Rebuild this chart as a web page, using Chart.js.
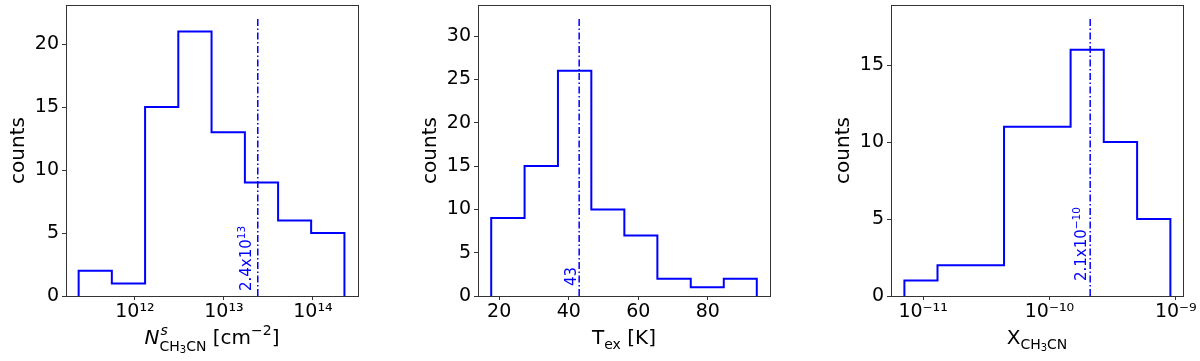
<!DOCTYPE html>
<html>
<head>
<meta charset="utf-8">
<script src="https://cdn.jsdelivr.net/npm/chart.js@4.4.0/dist/chart.umd.min.js"></script>
<style>
  html, body { margin: 0; padding: 0; background: #fff; overflow: hidden; }
  body { width: 1200px; height: 361px; position: relative; }
  canvas { position: absolute; top: 0; }
</style>
</head>
<body>
<canvas id="c1" width="412" height="361" style="left:0px"></canvas>
<canvas id="c2" width="412" height="361" style="left:412px"></canvas>
<canvas id="c3" width="412" height="361" style="left:825px"></canvas>
<script>
// panel 1: column density (log bins)
const nEdges = [2.33e11, 5.50e11, 1.30e12, 3.07e12, 7.26e12, 1.72e13, 4.06e13, 9.55e13, 2.26e14];
const nCounts = [2, 1, 15, 21, 13, 9, 6, 5];
const nMedian = 2.4e13;
const nXTicks = [1e12, 1e13, 1e14];
const nXLabels = ['10¹²', '10¹³', '10¹⁴'];
const nYTicks = [0, 5, 10, 15, 20];

// panel 2: excitation temperature
const tEdges = [17.7, 27.3, 36.9, 46.5, 56.0, 65.5, 75.1, 84.6, 94.1];
const tCounts = [9, 15, 26, 10, 7, 2, 1, 2];
const tMedian = 43;
const tXTicks = [20, 40, 60, 80];
const tXLabels = ['20', '40', '60', '80'];
const tYTicks = [0, 5, 10, 15, 20, 25, 30];

// panel 3: abundance (log bins)
const xEdges = [7.11e-12, 1.30e-11, 2.40e-11, 4.37e-11, 8.04e-11, 1.47e-10, 2.69e-10, 4.94e-10, 9.06e-10];
const xCounts = [1, 2, 2, 11, 11, 16, 10, 5];
const xMedian = 2.1e-10;
const xXTicks = [1e-11, 1e-10, 1e-9];
const xXLabels = ['10⁻¹¹', '10⁻¹⁰', '10⁻⁹'];
const xYTicks = [0, 5, 10, 15];

const BLUE = '#0000ff';
const FONT = '"DejaVu Sans", sans-serif';

function stepPoints(edges, counts) {
  const pts = [{ x: edges[0], y: 0 }];
  counts.forEach((c, i) => pts.push({ x: edges[i], y: c }));
  pts.push({ x: edges[edges.length - 1], y: counts[counts.length - 1] });
  pts.push({ x: edges[edges.length - 1], y: 0 });
  return pts;
}

// draw a row of text pieces (for sub/superscripts)
function drawRuns(ctx, runs, x, y, center) {
  let w = 0;
  runs.forEach(r => {
    ctx.font = (r.italic ? 'italic ' : '') + r.size + 'px ' + FONT;
    r.w = ctx.measureText(r.t).width;
    if (!r.stack) w += r.w;
  });
  let cx = center ? x - w / 2 : x;
  ctx.textBaseline = 'alphabetic';
  ctx.textAlign = 'left';
  runs.forEach(r => {
    ctx.font = (r.italic ? 'italic ' : '') + r.size + 'px ' + FONT;
    ctx.fillText(r.t, cx + (r.dx || 0), y + (r.dy || 0));
    if (!r.stack) cx += r.w;
  });
}

const textPlugin = {
  id: 'texts',
  afterDraw(chart, args, opts) {
    const ctx = chart.ctx;
    const a = chart.chartArea;
    ctx.save();
    // frame
    ctx.strokeStyle = '#333';
    ctx.lineWidth = 1;
    ctx.strokeRect(Math.round(a.left) + 0.5, Math.round(a.top) + 0.5,
      Math.round(a.right - a.left), Math.round(a.bottom - a.top));
    // y label
    ctx.fillStyle = '#000';
    ctx.save();
    ctx.translate(a.left - 47.5, (a.top + a.bottom) / 2);
    ctx.rotate(-Math.PI / 2);
    ctx.font = '20px ' + FONT;
    ctx.textAlign = 'center';
    ctx.textBaseline = 'middle';
    ctx.fillText('counts', 0, 0);
    ctx.restore();
    // x label
    drawRuns(ctx, opts.xTitle, (a.left + a.right) / 2, 344, true);
    // median annotation
    const px = chart.scales.x.getPixelForValue(opts.median) - opts.offset;
    ctx.save();
    ctx.fillStyle = BLUE;
    ctx.translate(px, a.bottom - opts.gap);
    ctx.rotate(-Math.PI / 2);
    drawRuns(ctx, opts.note, 0, 0, false);
    ctx.restore();
    ctx.restore();
  }
};

function makeChart(id, cfg) {
  new Chart(document.getElementById(id), {
    type: 'line',
    data: {
      datasets: [
        { data: stepPoints(cfg.edges, cfg.counts), stepped: true, borderColor: BLUE,
          borderWidth: 2, pointRadius: 0, fill: false },
        { data: [{ x: cfg.median, y: 0 }, { x: cfg.median, y: cfg.lineTop }], borderColor: BLUE,
          borderWidth: 1.5, borderDash: [7, 2.5, 1.5, 2.5], pointRadius: 0, fill: false }
      ]
    },
    options: {
      responsive: false,
      animation: false,
      events: [],
      layout: { padding: { left: 0, top: 5, right: 54, bottom: 0 } },
      plugins: {
        legend: { display: false },
        tooltip: { enabled: false },
        texts: { xTitle: cfg.xTitle, note: cfg.note, median: cfg.median, offset: cfg.offset, gap: cfg.gap }
      },
      scales: {
        x: {
          type: cfg.xType, min: cfg.xMin, max: cfg.xMax,
          border: { display: false },
          grid: { drawOnChartArea: false, drawTicks: true, tickLength: 4, color: '#333' },
          ticks: { color: '#000', font: { family: FONT, size: 19 }, padding: 1, autoSkip: false,
            maxRotation: 0, callback: (v, i) => cfg.xLabels[i] },
          afterBuildTicks: s => { s.ticks = cfg.xTicks.map(v => ({ value: v })); },
          afterFit: s => { s.height = 65; s.paddingLeft = 0; s.paddingRight = 0; }
        },
        y: {
          type: 'linear', min: 0, max: cfg.yMax,
          border: { display: false },
          grid: { drawOnChartArea: false, drawTicks: true, tickLength: 4, color: '#333' },
          ticks: { color: '#000', font: { family: FONT, size: 19 }, padding: 3, autoSkip: false },
          afterBuildTicks: s => { s.ticks = cfg.yTicks.map(v => ({ value: v })); },
          afterFit: s => { s.width = 66; s.paddingTop = 0; s.paddingBottom = 0; }
        }
      }
    },
    plugins: [textPlugin]
  });
}

makeChart('c1', {
  edges: nEdges, counts: nCounts, median: nMedian, lineTop: 22,
  xType: 'logarithmic', xMin: 1.68e11, xMax: 3.21e14, yMax: 23.1,
  xTicks: nXTicks, xLabels: nXLabels, yTicks: nYTicks,
  offset: 6.7, gap: 5,
  note: [{ t: '2.4x10', size: 15 }, { t: '13', size: 10.5, dy: -6 }],
  xTitle: [
    { t: 'N', size: 20, italic: true },
    { t: 's', size: 14, italic: true, dy: -9, dx: 1, stack: true },
    { t: 'CH', size: 14, dy: 7 }, { t: '3', size: 10, dy: 9 }, { t: 'CN', size: 14, dy: 7 },
    { t: ' [cm', size: 20 }, { t: '−2', size: 14, dy: -9 }, { t: ']', size: 20 }
  ]
});

makeChart('c2', {
  edges: tEdges, counts: tCounts, median: tMedian, lineTop: 32,
  xType: 'linear', xMin: 13.9, xMax: 97.9, yMax: 33.6,
  xTicks: tXTicks, xLabels: tXLabels, yTicks: tYTicks,
  offset: 3.3, gap: 10,
  note: [{ t: '43', size: 15 }],
  xTitle: [
    { t: 'T', size: 20 }, { t: 'ex', size: 14, dy: 4.5 }, { t: ' [K]', size: 20 }
  ]
});

makeChart('c3', {
  edges: xEdges, counts: xCounts, median: xMedian, lineTop: 18,
  xType: 'logarithmic', xMin: 5.57e-12, xMax: 1.14e-9, yMax: 18.9,
  xTicks: xXTicks, xLabels: xXLabels, yTicks: xYTicks,
  offset: 4, gap: 15,
  note: [{ t: '2.1x10', size: 15 }, { t: '−10', size: 10.5, dy: -6 }],
  xTitle: [
    { t: 'X', size: 20 }, { t: 'CH', size: 14, dy: 4.5 }, { t: '3', size: 10, dy: 6.5 }, { t: 'CN', size: 14, dy: 4.5 }
  ]
});
</script>
</body>
</html>
